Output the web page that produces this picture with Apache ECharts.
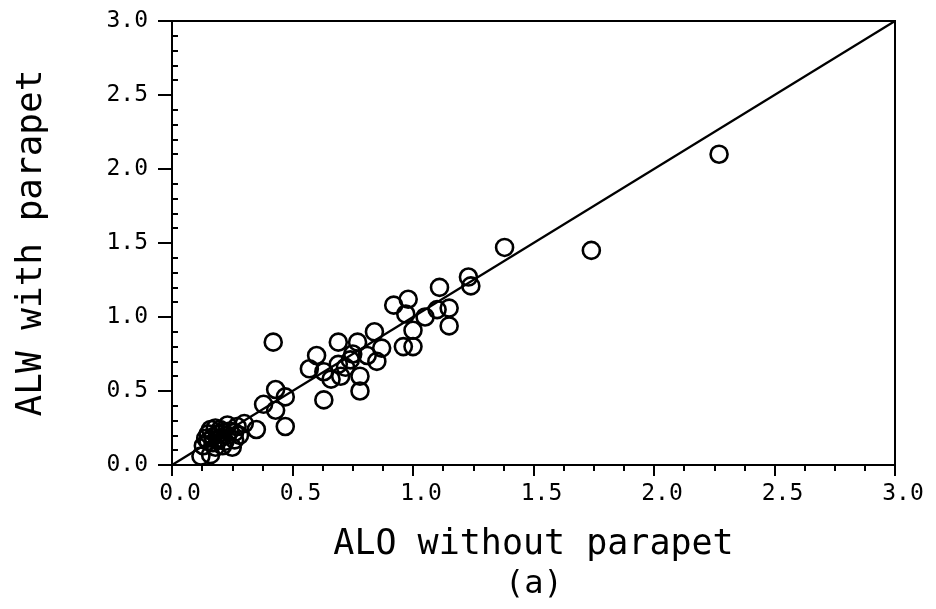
<!DOCTYPE html>
<html>
<head>
<meta charset="utf-8">
<script src="https://cdn.jsdelivr.net/npm/echarts@6/dist/echarts.min.js"></script>
<style>
  html, body { margin: 0; padding: 0; background: #fff; }
  #main { width: 936px; height: 609px; }
</style>
</head>
<body>
<div id="main"></div>
<script>
// valeurs
var xWithout = [
    2.27, 1.74, 1.38, 1.23, 1.24, 1.11, 0.98, 0.92, 0.97, 1.10,
    1.15, 1.15, 1.05, 1.00, 0.96, 1.00, 0.84, 0.77, 0.69, 0.87,
    0.85, 0.75, 0.60, 0.57, 0.63, 0.69, 0.70, 0.78, 0.78, 0.63,
    0.47, 0.47, 0.74, 0.66, 0.72, 0.81, 0.42, 0.43, 0.38, 0.43,
    0.35, 0.16, 0.19, 0.21, 0.27, 0.28, 0.25, 0.17, 0.14, 0.22,
    0.30, 0.12, 0.16, 0.20, 0.15, 0.18, 0.23, 0.26, 0.21, 0.24,
    0.18, 0.13, 0.17, 0.20, 0.23, 0.15, 0.19, 0.26
];
var yWith = [
    2.10, 1.45, 1.47, 1.27, 1.21, 1.20, 1.12, 1.08, 1.02, 1.05,
    1.06, 0.94, 1.00, 0.91, 0.80, 0.80, 0.90, 0.83, 0.83, 0.79,
    0.70, 0.75, 0.74, 0.65, 0.63, 0.68, 0.60, 0.60, 0.50, 0.44,
    0.46, 0.26, 0.71, 0.58, 0.66, 0.74, 0.83, 0.51, 0.41, 0.37,
    0.24, 0.24, 0.21, 0.22, 0.26, 0.20, 0.12, 0.15, 0.18, 0.16,
    0.28, 0.06, 0.07, 0.18, 0.21, 0.25, 0.27, 0.17, 0.13, 0.23,
    0.12, 0.13, 0.19, 0.24, 0.20, 0.16, 0.17, 0.22
];
var refLine = [[0, 0], [3, 3]];
var axisMin = 0, axisMax = 3, axisStep = 0.5;

var points = [];
for (var i = 0; i < xWithout.length; i++) {
    points.push([xWithout[i], yWith[i]]);
}

var font = 'DejaVu Sans Mono';
var chart = echarts.init(document.getElementById('main'));

var option = {
    backgroundColor: '#fff',
    animation: false,
    grid: {
        left: 172, right: 41, top: 21, bottom: 144,
        show: true, borderColor: '#000', borderWidth: 2,
        backgroundColor: 'transparent'
    },
    xAxis: {
        type: 'value', min: axisMin, max: axisMax, interval: axisStep,
        name: 'ALO without parapet',
        nameLocation: 'middle', nameGap: 62,
        nameTextStyle: { fontFamily: font, fontSize: 35, color: '#000' },
        axisLine: { lineStyle: { color: '#000', width: 2 } },
        axisTick: { length: 11, lineStyle: { color: '#000', width: 2 } },
        minorTick: { show: true, splitNumber: 4, length: 6, lineStyle: { color: '#000', width: 2 } },
        splitLine: { show: false },
        axisLabel: {
            margin: 18, color: '#000', fontFamily: font, fontSize: 23,
            padding: [0, 0, 0, 16],
            formatter: function (v) { return v.toFixed(1); }
        }
    },
    yAxis: [{
        type: 'value', min: axisMin, max: axisMax, interval: axisStep,
        name: 'ALW with parapet',
        nameLocation: 'middle', nameGap: 122, nameRotate: 90,
        nameTextStyle: { fontFamily: font, fontSize: 36, color: '#000' },
        axisLine: { lineStyle: { color: '#000', width: 2 } },
        axisTick: { length: 14, lineStyle: { color: '#000', width: 2 } },
        splitLine: { show: false },
        axisLabel: {
            margin: 24, color: '#000', fontFamily: font, fontSize: 23,
            formatter: function (v) { return v.toFixed(1); }
        }
    }, {
        // petites graduations vers l'interieur
        type: 'value', min: axisMin, max: axisMax, interval: axisStep,
        position: 'left',
        axisLine: { show: false },
        axisTick: { show: false, inside: true },
        minorTick: { show: true, splitNumber: 5, length: 6, lineStyle: { color: '#000', width: 2 } },
        axisLabel: { show: false },
        splitLine: { show: false }
    }],
    graphic: [{
        type: 'text', left: 505, top: 569,
        style: { text: '(a)', font: '32px "DejaVu Sans Mono"', fill: '#000' }
    }],
    series: [{
        type: 'line',
        data: refLine,
        symbol: 'none',
        lineStyle: { color: '#000', width: 2.2 },
        z: 1
    }, {
        type: 'scatter',
        data: points,
        symbol: 'circle',
        symbolSize: 17,
        itemStyle: { color: 'rgba(0,0,0,0)', borderColor: '#000', borderWidth: 2.6, opacity: 1 },
        z: 2
    }]
};

chart.setOption(option);
</script>
</body>
</html>
